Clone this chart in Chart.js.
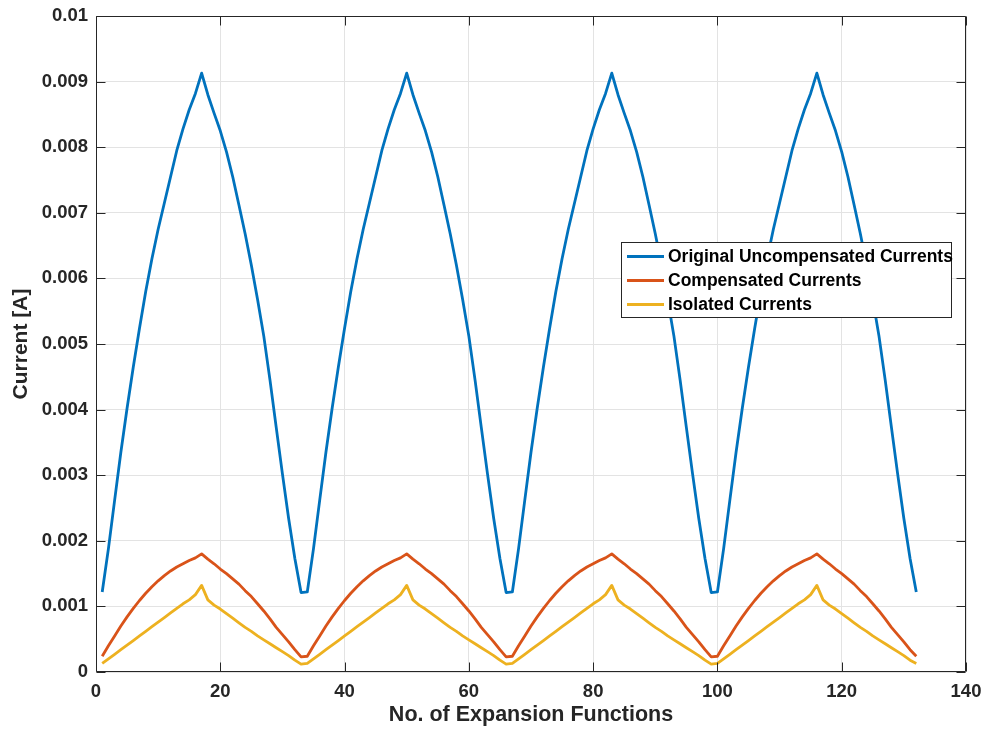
<!DOCTYPE html>
<html><head><meta charset="utf-8">
<script src="https://cdn.jsdelivr.net/npm/chart.js@4.4.1/dist/chart.umd.min.js"></script>
<style>html,body{margin:0;padding:0;background:#fff;}canvas{display:block;}</style>
</head><body>
<canvas id="c" width="987" height="738"></canvas>
<script>
const expansionIndex = [1,2,3,4,5,6,7,8,9,10,11,12,13,14,15,16,17,18,19,20,21,22,23,24,25,26,27,28,29,30,31,32,33,
34,35,36,37,38,39,40,41,42,43,44,45,46,47,48,49,50,51,52,53,54,55,56,57,58,59,60,61,62,63,64,65,66,
67,68,69,70,71,72,73,74,75,76,77,78,79,80,81,82,83,84,85,86,87,88,89,90,91,92,93,94,95,96,97,98,99,
100,101,102,103,104,105,106,107,108,109,110,111,112,113,114,115,116,117,118,119,120,121,122,123,124,125,126,127,128,129,130,131,132];

const uncompensated = [
0.00122,0.00188,0.00262,0.00335,0.00402,0.00465,0.00524,0.00580,0.00630,0.00675,0.00715,0.00755,0.00795,0.00828,0.00857,0.00882,0.00913,
0.00880,0.00852,0.00825,0.00793,0.00755,0.00712,0.00668,0.00620,0.00568,0.00512,0.00445,0.00373,0.00302,0.00234,0.00173,0.00121,
0.00122,0.00188,0.00262,0.00335,0.00402,0.00465,0.00524,0.00580,0.00630,0.00675,0.00715,0.00755,0.00795,0.00828,0.00857,0.00882,0.00913,
0.00880,0.00852,0.00825,0.00793,0.00755,0.00712,0.00668,0.00620,0.00568,0.00512,0.00445,0.00373,0.00302,0.00234,0.00173,0.00121,
0.00122,0.00188,0.00262,0.00335,0.00402,0.00465,0.00524,0.00580,0.00630,0.00675,0.00715,0.00755,0.00795,0.00828,0.00857,0.00882,0.00913,
0.00880,0.00852,0.00825,0.00793,0.00755,0.00712,0.00668,0.00620,0.00568,0.00512,0.00445,0.00373,0.00302,0.00234,0.00173,0.00121,
0.00122,0.00188,0.00262,0.00335,0.00402,0.00465,0.00524,0.00580,0.00630,0.00675,0.00715,0.00755,0.00795,0.00828,0.00857,0.00882,0.00913,
0.00880,0.00852,0.00825,0.00793,0.00755,0.00712,0.00668,0.00620,0.00568,0.00512,0.00445,0.00373,0.00302,0.00234,0.00173,0.00122];

const compensated = [
0.00024,0.00040,0.00055,0.00070,0.00084,0.00097,0.00109,0.00120,0.00130,0.00139,0.00147,0.00154,0.00160,0.00165,0.00170,0.00174,0.00180,
0.00172,0.00165,0.00157,0.00150,0.00142,0.00134,0.00124,0.00115,0.00104,0.00093,0.00081,0.00068,0.00057,0.00046,0.00034,0.00023,
0.00024,0.00040,0.00055,0.00070,0.00084,0.00097,0.00109,0.00120,0.00130,0.00139,0.00147,0.00154,0.00160,0.00165,0.00170,0.00174,0.00180,
0.00172,0.00165,0.00157,0.00150,0.00142,0.00134,0.00124,0.00115,0.00104,0.00093,0.00081,0.00068,0.00057,0.00046,0.00034,0.00023,
0.00024,0.00040,0.00055,0.00070,0.00084,0.00097,0.00109,0.00120,0.00130,0.00139,0.00147,0.00154,0.00160,0.00165,0.00170,0.00174,0.00180,
0.00172,0.00165,0.00157,0.00150,0.00142,0.00134,0.00124,0.00115,0.00104,0.00093,0.00081,0.00068,0.00057,0.00046,0.00034,0.00023,
0.00024,0.00040,0.00055,0.00070,0.00084,0.00097,0.00109,0.00120,0.00130,0.00139,0.00147,0.00154,0.00160,0.00165,0.00170,0.00174,0.00180,
0.00172,0.00165,0.00157,0.00150,0.00142,0.00134,0.00124,0.00115,0.00104,0.00093,0.00081,0.00068,0.00057,0.00046,0.00034,0.00024];

const isolated = [
0.00013,0.00020,0.00027,0.00034,0.00041,0.00048,0.00055,0.00062,0.00069,0.00076,0.00083,0.00090,0.00097,0.00104,0.00110,0.00118,0.00132,
0.00110,0.00102,0.00096,0.00089,0.00082,0.00075,0.00068,0.00062,0.00055,0.00049,0.00043,0.00037,0.00031,0.00025,0.00018,0.00012,
0.00013,0.00020,0.00027,0.00034,0.00041,0.00048,0.00055,0.00062,0.00069,0.00076,0.00083,0.00090,0.00097,0.00104,0.00110,0.00118,0.00132,
0.00110,0.00102,0.00096,0.00089,0.00082,0.00075,0.00068,0.00062,0.00055,0.00049,0.00043,0.00037,0.00031,0.00025,0.00018,0.00012,
0.00013,0.00020,0.00027,0.00034,0.00041,0.00048,0.00055,0.00062,0.00069,0.00076,0.00083,0.00090,0.00097,0.00104,0.00110,0.00118,0.00132,
0.00110,0.00102,0.00096,0.00089,0.00082,0.00075,0.00068,0.00062,0.00055,0.00049,0.00043,0.00037,0.00031,0.00025,0.00018,0.00012,
0.00013,0.00020,0.00027,0.00034,0.00041,0.00048,0.00055,0.00062,0.00069,0.00076,0.00083,0.00090,0.00097,0.00104,0.00110,0.00118,0.00132,
0.00110,0.00102,0.00096,0.00089,0.00082,0.00075,0.00068,0.00062,0.00055,0.00049,0.00043,0.00037,0.00031,0.00025,0.00018,0.00013];

const seriesNames = ['Original Uncompensated Currents','Compensated Currents','Isolated Currents'];
const xTickLabels = ['0','20','40','60','80','100','120','140'];
const yTickLabels = ['0','0.001','0.002','0.003','0.004','0.005','0.006','0.007','0.008','0.009','0.01'];
const xTitle = 'No. of Expansion Functions';
const yTitle = 'Current [A]';

const COLORS = ['#0072BD','#D95319','#EDB120'];
const FONT = '"Liberation Sans", Arial, Helvetica, sans-serif';
const TXT = '#262626';

function pts(ys){ return expansionIndex.map((x,i)=>({x:x,y:ys[i]})); }

const boxPlugin = {
  id:'boxTicks',
  afterDatasetsDraw(chart){
    const {ctx, chartArea:a, scales:{x,y}} = chart;
    const L=Math.round(a.left)+0.5, R=Math.round(a.right)-0.5, T=Math.round(a.top)+0.5, B=Math.round(a.bottom)-0.5;
    ctx.save();
    ctx.strokeStyle=TXT; ctx.lineWidth=1;
    ctx.beginPath();
    ctx.rect(L,T,R-L,B-T);
    x.ticks.forEach(t=>{const p=Math.round(x.getPixelForValue(t.value))+0.5; ctx.moveTo(p,B); ctx.lineTo(p,B-9); ctx.moveTo(p,T); ctx.lineTo(p,T+9);});
    y.ticks.forEach(t=>{const p=Math.round(y.getPixelForValue(t.value))+0.5; ctx.moveTo(L,p); ctx.lineTo(L+9,p); ctx.moveTo(R,p); ctx.lineTo(R-9,p);});
    ctx.stroke();
    ctx.restore();
  }
};

const legendPlugin = {
  id:'boxLegend',
  afterDraw(chart){
    const ctx = chart.ctx;
    const bx=621.5, by=242.5, bw=330, bh=75;
    ctx.save();
    ctx.fillStyle='#ffffff';
    ctx.fillRect(bx,by,bw,bh);
    ctx.strokeStyle=TXT; ctx.lineWidth=1;
    ctx.strokeRect(bx,by,bw,bh);
    const rows=[256.5,280.5,304.5];
    ctx.font='bold 17.5px '+FONT;
    ctx.textBaseline='middle';
    ctx.textAlign='left';
    seriesNames.forEach((n,i)=>{
      ctx.strokeStyle=COLORS[i]; ctx.lineWidth=3;
      ctx.beginPath(); ctx.moveTo(627,rows[i]); ctx.lineTo(664,rows[i]); ctx.stroke();
      ctx.fillStyle='#000000';
      ctx.fillText(n,668,rows[i]+0.5);
    });
    ctx.restore();
  }
};

new Chart(document.getElementById('c'),{
  type:'line',
  data:{
    datasets:[
      {label:seriesNames[0],data:pts(uncompensated),borderColor:COLORS[0],borderWidth:2.8},
      {label:seriesNames[1],data:pts(compensated),borderColor:COLORS[1],borderWidth:2.8},
      {label:seriesNames[2],data:pts(isolated),borderColor:COLORS[2],borderWidth:2.8}
    ]
  },
  options:{
    responsive:false,
    animation:false,
    devicePixelRatio:1,
    elements:{point:{radius:0},line:{tension:0,borderJoinStyle:'round',borderCapStyle:'butt'}},
    layout:{padding:{top:16,right:21,left:0,bottom:0}},
    plugins:{legend:{display:false},tooltip:{enabled:false}},
    scales:{
      x:{
        type:'linear',min:0,max:140,
        afterFit(s){s.height=66;s.paddingLeft=0;s.paddingRight=0;},
        grid:{color:'#e3e3e3',lineWidth:1,drawTicks:false},
        border:{display:false},
        ticks:{stepSize:20,padding:9,color:TXT,font:{family:FONT,size:18.5,weight:'bold'},
               callback:(v)=>xTickLabels[Math.round(v/20)]},
        title:{display:true,text:xTitle,color:TXT,font:{family:FONT,size:21.5,weight:'bold'},padding:{top:0,bottom:10}}
      },
      y:{
        type:'linear',min:0,max:0.01,
        afterFit(s){s.width=96;s.paddingTop=0;s.paddingBottom=0;},
        grid:{color:'#e3e3e3',lineWidth:1,drawTicks:false},
        border:{display:false},
        ticks:{stepSize:0.001,padding:8,color:TXT,font:{family:FONT,size:18.5,weight:'bold'},
               callback:(v)=>yTickLabels[Math.round(v/0.001)]},
        title:{display:true,text:yTitle,color:TXT,font:{family:FONT,size:21,weight:'bold'},padding:{top:9,bottom:0}}
      }
    }
  },
  plugins:[boxPlugin,legendPlugin]
});
</script>
</body></html>
